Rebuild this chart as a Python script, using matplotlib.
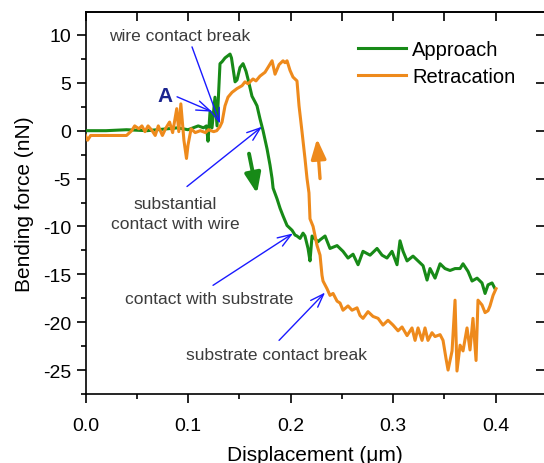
import numpy as np
import matplotlib
matplotlib.use("Agg")
import matplotlib.pyplot as plt

plt.rcParams["font.family"] = ["Liberation Sans", "DejaVu Sans"]
plt.rcParams["axes.unicode_minus"] = False

# Approach curve (displacement in um, force in nN)
approach_x = [0.0, 0.02, 0.04, 0.06, 0.08, 0.09, 0.10, 0.11, 0.115, 0.118,
              0.1195, 0.1215, 0.1234, 0.1263, 0.1283, 0.1312, 0.1332, 0.1361, 0.141, 0.1424,
              0.1459, 0.1478, 0.1507, 0.1537, 0.1566, 0.1585, 0.1624, 0.1654, 0.1673, 0.1702,
              0.1732, 0.1771, 0.18, 0.182, 0.183, 0.1868, 0.1898, 0.1927, 0.1966, 0.2015,
              0.2044, 0.2063, 0.2093, 0.2122, 0.2141, 0.2171, 0.219, 0.221, 0.2239, 0.2268,
              0.2288, 0.2337, 0.2385, 0.2454, 0.2512, 0.2561, 0.261, 0.2659, 0.2707, 0.2776,
              0.2844, 0.2893, 0.2941, 0.299, 0.3039, 0.3068, 0.3098, 0.3137, 0.3195, 0.3244,
              0.3293, 0.3332, 0.3361, 0.341, 0.3459, 0.3507, 0.3556, 0.3605, 0.3654, 0.3683,
              0.3732, 0.3771, 0.382, 0.3868, 0.3898, 0.3927, 0.3966, 0.3995]
approach_y = [0.0, 0.0, 0.1, 0.0, 0.2, 0.3, 0.1, 0.5, 0.3, 0.5,
              -1.1, 2.0, 0.3, 3.5, 0.5, 7.0, 7.2, 7.6, 8.0, 7.6,
              5.1, 5.3, 6.6, 7.0, 6.2, 5.4, 3.6, 3.0, 2.6, 1.25,
              0.0, -1.9, -3.6, -5.0, -6.0, -7.1, -8.1, -8.9, -9.9, -10.4,
              -10.9, -11.0, -11.25, -10.7, -11.0, -12.3, -13.6, -11.0, -11.3, -11.6,
              -11.4, -11.0, -12.3, -12.0, -12.6, -13.3, -12.9, -14.0, -12.6, -13.0,
              -12.3, -13.0, -13.3, -12.6, -14.0, -11.5, -12.6, -13.6, -13.1, -13.6,
              -14.1, -15.6, -14.4, -15.4, -13.9, -14.4, -14.6, -14.4, -14.4, -13.9,
              -14.7, -15.7, -15.4, -15.9, -17.0, -16.1, -15.9, -16.5]

# Retraction curve
retract_x = [0.0, 0.002, 0.005, 0.04, 0.045, 0.048, 0.052, 0.055, 0.058, 0.061,
             0.065, 0.068, 0.071, 0.075, 0.078, 0.082, 0.085, 0.089, 0.091, 0.093,
             0.096, 0.0985, 0.1, 0.103, 0.107, 0.112, 0.117, 0.12, 0.125, 0.128,
             0.131, 0.1332, 0.1361, 0.139, 0.1429, 0.1478, 0.1527, 0.1556, 0.1585, 0.1634,
             0.1663, 0.1702, 0.1751, 0.178, 0.182, 0.1849, 0.1888, 0.1927, 0.1946, 0.1966,
             0.1995, 0.2024, 0.2063, 0.2083, 0.2112, 0.2141, 0.2161, 0.218, 0.219, 0.222,
             0.2259, 0.2288, 0.2307, 0.2317, 0.2356, 0.2385, 0.2415, 0.2454, 0.2483, 0.2512,
             0.2561, 0.26, 0.2649, 0.2678, 0.2707, 0.2756, 0.2805, 0.2854, 0.2902, 0.2951,
             0.3, 0.3049, 0.3088, 0.3137, 0.3185, 0.3215, 0.3244, 0.3283, 0.3312, 0.3341,
             0.338, 0.341, 0.3459, 0.3488, 0.3517, 0.3537, 0.3576, 0.3605, 0.3624, 0.3654,
             0.3683, 0.3722, 0.3751, 0.378, 0.381, 0.3829, 0.3868, 0.3898, 0.3927, 0.3946,
             0.3976, 0.4005]
retract_y = [-0.5, -1.0, -0.5, -0.5, 0.0, 0.5, 0.2, 0.5, -0.1, 0.5,
             0.0, -0.5, 0.5, -0.5, 0.2, 0.9, -0.2, 2.3, -0.1, 2.8,
             -1.0, -2.9, -1.5, 0.2, -0.2, 0.0, -0.2, 0.1, -0.1, 0.0,
             0.4, 0.9, 2.6, 3.5, 4.0, 4.4, 4.7, 5.1, 4.9, 5.4,
             5.2, 5.7, 6.1, 6.6, 7.3, 5.9, 6.9, 7.3, 7.1, 7.3,
             6.3, 5.6, 5.2, 2.6, -0.1, -2.9, -5.0, -6.5, -9.2, -10.0,
             -12.0, -13.0, -15.1, -15.7, -16.5, -17.2, -17.0, -17.8, -18.0, -18.75,
             -18.3, -18.75, -18.5, -19.3, -19.6, -18.9, -19.4, -19.6, -20.3, -19.8,
             -20.3, -20.9, -20.5, -21.4, -20.6, -21.9, -20.6, -21.9, -20.6, -21.9,
             -21.1, -21.5, -21.3, -21.9, -23.8, -25.0, -23.0, -17.7, -25.1, -22.4,
             -23.0, -20.6, -22.9, -19.6, -24.0, -17.7, -18.2, -19.0, -18.8, -18.3,
             -17.2, -16.5]

series_labels = ["Approach", "Retracation"]
green = "#178a17"
orange = "#ee8a1c"
blue = "#1a1aff"
grey = "#3c3c3c"

fig = plt.figure(figsize=(5.44, 4.64), dpi=100)
ax = fig.add_axes([0.1572, 0.1487, 0.8447, 0.824])

ax.plot(approach_x, approach_y, color=green, lw=2.2, label=series_labels[0], zorder=3)
ax.plot(retract_x, retract_y, color=orange, lw=2.2, label=series_labels[1], zorder=3)

ax.set_xlim(0, 0.4483)
ax.set_ylim(-27.4, 12.43)
ax.set_xticks(np.arange(0, 0.41, 0.1))
ax.set_xticks(np.arange(0.05, 0.45, 0.1), minor=True)
ax.set_yticks(np.arange(-25, 11, 5))
ax.set_yticks(np.arange(-27.5, 12, 5), minor=True)
ax.xaxis.set_major_formatter(matplotlib.ticker.FormatStrFormatter("%.1f"))
ax.tick_params(which="major", direction="out", length=6.5, width=1.2, labelsize=14, pad=4)
ax.tick_params(axis="x", which="major", pad=10)
ax.tick_params(which="minor", direction="out", length=3.6, width=1.2)
for s in ax.spines.values():
    s.set_linewidth(1.2)

top = ax.secondary_xaxis("top")
top.set_xticks(np.arange(0, 0.45, 0.05))
top.tick_params(direction="in", length=6.5, width=1.2, labeltop=False)
top.spines["top"].set_linewidth(1.2)
right = ax.secondary_yaxis("right")
right.set_yticks(np.arange(-25, 11, 5))
right.tick_params(direction="in", length=6.5, width=1.2, labelright=False)
right.spines["right"].set_linewidth(1.2)

ax.set_xlabel("Displacement (\u03bcm)", fontsize=15, labelpad=8)
ax.set_ylabel("Bending force (nN)", fontsize=15, labelpad=6)

ax.legend(loc="upper left", bbox_to_anchor=(0.593, 0.927), frameon=False, fontsize=14.5,
          handlelength=2.4, handletextpad=0.3, labelspacing=0.42, borderpad=0,
          borderaxespad=0)

arr = dict(arrowstyle="->,head_length=0.7,head_width=0.25", color=blue, lw=1.0,
           shrinkA=0, shrinkB=0, mutation_scale=14)
ax.text(0.0922, 9.9, "wire contact break", fontsize=12.5, color=grey, ha="center", va="center")
ax.annotate("", xy=(0.1312, 0.73), xytext=(0.1039, 8.75), arrowprops=arr)
ax.text(0.0776, 3.65, "A", fontsize=15, fontweight="bold", color="#1c2590", ha="center", va="center")
ax.annotate("", xy=(0.1234, 1.98), xytext=(0.0893, 3.54), arrowprops=arr)
ax.text(0.0873, -8.65, "substantial\ncontact with wire", fontsize=12.5, color=grey,
        ha="center", va="center", linespacing=1.35)
ax.annotate("", xy=(0.1722, 0.42), xytext=(0.099, -5.83), arrowprops=arr)
ax.text(0.1205, -17.5, "contact with substrate", fontsize=12.5, color=grey, ha="center", va="center")
ax.annotate("", xy=(0.2024, -10.73), xytext=(0.1244, -16.15), arrowprops=arr)
ax.text(0.1859, -23.4, "substrate contact break", fontsize=12.5, color=grey, ha="center", va="center")
ax.annotate("", xy=(0.2337, -16.9), xytext=(0.1888, -21.9), arrowprops=arr)

# direction arrows
ax.annotate("", xy=(0.1673, -6.56), xytext=(0.1595, -2.4),
            arrowprops=dict(arrowstyle="-|>,head_length=0.8,head_width=0.32", color=green,
                            lw=2.8, shrinkA=0, shrinkB=0, mutation_scale=15))
ax.annotate("", xy=(0.2259, -0.83), xytext=(0.2288, -5.0),
            arrowprops=dict(arrowstyle="-|>,head_length=0.8,head_width=0.3", color=orange,
                            lw=2.4, shrinkA=0, shrinkB=0, mutation_scale=15))

fig.savefig("out.png", dpi=100)
